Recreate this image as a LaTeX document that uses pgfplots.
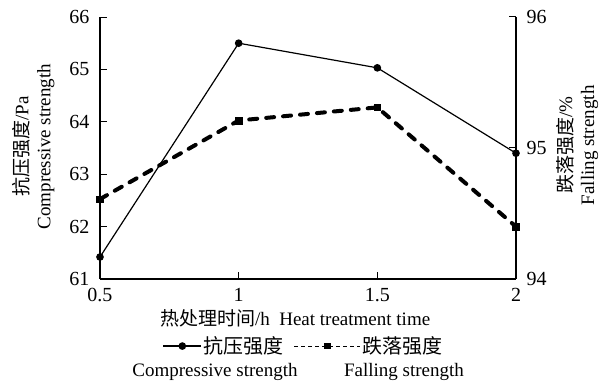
\documentclass[border=0pt]{standalone}
\usepackage{fontspec}
\setmainfont{Liberation Serif}
\newfontfamily\cjk{Noto Sans CJK SC}
\usepackage{pgfplots}
\pgfplotsset{compat=1.18}
\pgfplotsset{
  shortlegend/.style={legend image code/.code={\draw[mark repeat=2,mark phase=2,##1] plot coordinates {(0pt,0pt)(19pt,0pt)(38pt,0pt)};}},
  longlegend/.style={legend image code/.code={\draw[mark repeat=2,mark phase=2,##1] plot coordinates {(0pt,0pt)(33pt,0pt)(66pt,0pt)};}},
}

\begin{document}
\fontsize{19}{22}\selectfont
\begin{tikzpicture}[x=1pt,y=1pt]
\path[use as bounding box] (-100,-106) rectangle (511,279);
\pgfplotsset{every axis/.append style={
  scale only axis, width=416pt, height=262pt,
  at={(0,0)}, anchor=south west,
  xmin=0.5, xmax=2,
  /pgf/number format/assume math mode=true,
  tick style={black, line width=1pt},
  major tick length=7pt,
  axis line style={line width=1.1pt, -},
  font=\fontsize{19}{22}\selectfont,
  tick label style={font=\fontsize{20}{22}\selectfont},
}}
% compressive strength, left axis
\begin{axis}[
  axis y line*=left, axis x line*=bottom,
  ymin=61, ymax=66, ytick={61,62,63,64,65,66},
  xtick={0.5,1,1.5,2},
  yticklabel style={xshift=-4pt},
  xticklabel style={yshift=-3pt},
  xlabel={{\cjk 热处理时间}/h\ \ Heat treatment time},
  xlabel style={at={(axis description cs:0.469,-0.149)}, anchor=center},
  ylabel={{\cjk 抗压强度}/Pa\\Compressive strength},
  ylabel style={align=center, at={(axis description cs:-0.160,0.505)}, anchor=center},
  legend columns=2,
  legend style={at={(axis description cs:0.49,-0.256)}, anchor=center, draw=none, fill=none,
    font=\fontsize{20}{22}\selectfont,
    /tikz/every even column/.append style={column sep=8pt}},
]
\addplot[black, line width=1.2pt, mark=*, mark size=3.2pt, shortlegend] coordinates {
  (0.5,61.42) (1,65.50) (1.5,65.03) (2,63.40)
};
\addlegendentry{\cjk 抗压强度}
\addlegendimage{black, line width=1pt, dash pattern=on 4pt off 3pt, mark=square*, mark size=2.8pt, mark options={solid}, longlegend}
\addlegendentry{\cjk 跌落强度}
\end{axis}
% falling strength, right axis
\begin{axis}[
  axis y line*=right, axis x line=none,
  ymin=94, ymax=96, ytick={94,95,96},
  yticklabel style={xshift=4pt},
  ylabel={{\cjk 跌落强度}/\%\\Falling strength},
  ylabel style={align=center, at={(axis description cs:1.147,0.51)}, anchor=center},
]
\addplot[black, line width=4pt, line cap=round, dash pattern=on 8pt off 9pt, mark=square*, mark size=3.3pt, mark options={solid, line width=0.5pt}] coordinates {
  (0.5,94.61) (1,95.21) (1.5,95.31) (2,94.40)
};
\end{axis}
\node[font=\fontsize{19}{22}\selectfont] at (115,-93) {Compressive strength};
\node[font=\fontsize{19}{22}\selectfont] at (304,-93) {Falling strength};
\end{tikzpicture}
\end{document}
